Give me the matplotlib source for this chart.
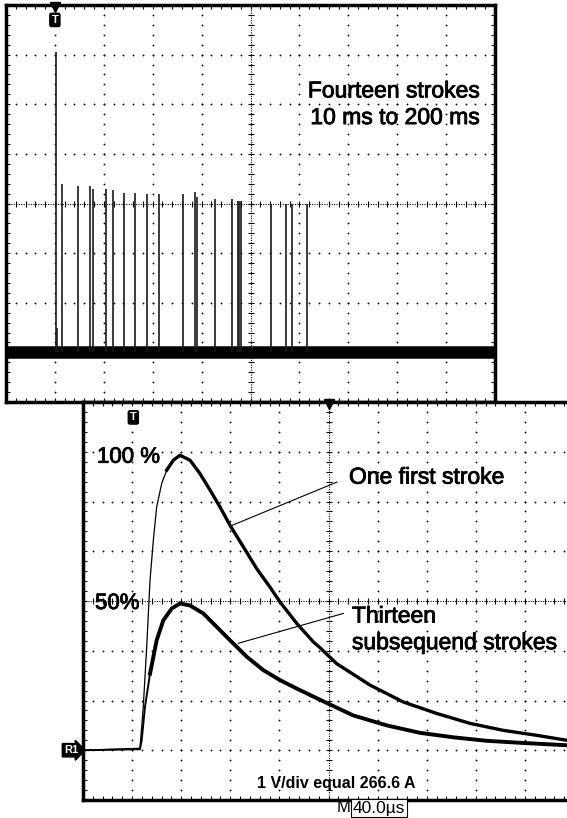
import numpy as np
import matplotlib
matplotlib.use('Agg')
import matplotlib.pyplot as plt
import matplotlib.patheffects as pe

plt.rcParams['font.family'] = ['Liberation Sans', 'DejaVu Sans']

# top screen: stroke positions (divisions) and peak level above baseline (V)
stroke_pos = [1.018, 1.04, 1.154, 1.475, 1.715, 1.777, 2.035, 2.186, 2.418, 2.643,
              2.889, 3.135, 3.621, 3.867, 3.900, 4.283, 4.617, 4.740, 4.775, 4.809,
              5.420, 5.727, 5.850, 6.154]
stroke_amp = [6.05, 0.50, 3.39, 3.35, 3.35, 3.29, 3.29, 3.27, 3.21, 3.21,
              3.19, 3.19, 3.19, 3.23, 3.13, 3.10, 3.10, 3.06, 3.06, 3.06,
              3.00, 3.00, 3.00, 3.00]

# bottom screen: time (us) and level (V) of the two current waveforms
t_first = [0, 46.4, 49.1, 51.9, 54.6, 57.3, 60.0, 64.1, 68.2, 73.6, 79.0, 87.2, 95.3,
           103.5, 111.6, 119.8, 130.6, 141.5, 152.3, 160.5, 174.1, 187.6, 193.1,
           206.7, 233.8, 260.9, 288.1, 315.3, 342.4, 369.6, 394.3, 400]
v_first = [0, 0.04, 0.87, 2.08, 3.42, 4.22, 4.89, 5.36, 5.63, 5.83, 5.93, 5.83, 5.56,
           5.23, 4.89, 4.52, 4.09, 3.65, 3.28, 2.98, 2.55, 2.18, 2.06,
           1.74, 1.31, 0.97, 0.74, 0.54, 0.40, 0.30, 0.20, 0.19]
t_sub = [0, 46.4, 47.8, 50.5, 54.6, 60.0, 65.4, 72.3, 79.0, 87.2, 98.0, 108.9, 119.8,
         133.4, 146.9, 160.5, 174.1, 187.6, 201.2, 220.2, 247.4, 274.5, 301.7, 328.9,
         356.0, 394.3, 400]
v_sub = [0, 0.02, 0.20, 0.87, 1.54, 2.21, 2.61, 2.85, 2.95, 2.91, 2.75, 2.48, 2.21,
         1.88, 1.61, 1.41, 1.24, 1.08, 0.92, 0.70, 0.50, 0.35, 0.26, 0.19,
         0.15, 0.10, 0.10]

bold_fx = [pe.withStroke(linewidth=0.6, foreground='black')]


def scope_grid(ax, xs, ys, xc, yc):
    xf = np.linspace(xs[0], xs[-1], (len(xs) - 1) * 5 + 1)
    yf = np.linspace(ys[0], ys[-1], (len(ys) - 1) * 5 + 1)
    for x in xs[1:-1]:
        if np.isclose(x, xc):
            continue
        ax.plot(np.full(yf.size, x), yf, ls='none', marker='o', ms=1.3, mew=0, color='k')
    for y in ys[1:-1]:
        if np.isclose(y, yc):
            continue
        ax.plot(xf, np.full(xf.size, y), ls='none', marker='o', ms=1.3, mew=0, color='k')
    # centre cross with sub-division ticks
    ax.plot([xc, xc], [ys[0], ys[-1]], ls=(0, (1, 1.2)), lw=0.8, color='k')
    ax.plot(np.full(yf.size, xc), yf, ls='none', marker='_', ms=5, mew=0.8, color='k')
    ax.plot([xs[0], xs[-1]], [yc, yc], ls=(0, (1, 1.2)), lw=0.8, color='k')
    ax.plot(xf, np.full(xf.size, yc), ls='none', marker='|', ms=5, mew=0.8, color='k')
    ax.set_xlim(xs[0], xs[-1])
    ax.set_ylim(ys[0], ys[-1])
    ax.set_xticks(xf)
    ax.set_yticks(yf)
    ax.tick_params(direction='in', length=3, width=0.8, top=True, right=True,
                   labelbottom=False, labelleft=False)
    for sp in ax.spines.values():
        sp.set_linewidth(2.5)


fig = plt.figure(figsize=(5.67, 8.18), dpi=100)

# upper screen
ax1 = fig.add_axes([6 / 567, 1 - 402 / 818, 489 / 567, 397 / 818])
scope_grid(ax1, np.arange(0, 11), np.arange(-1, 8), 5, 3)
ax1.axhline(0, lw=9, color='k', zorder=3)
ax1.vlines(stroke_pos, 0, stroke_amp, color='#1a1a1a', lw=1.2, zorder=3)
ax1.text(9.69, 5.0, 'Fourteen strokes\n10 ms to 200 ms', ha='right', va='center',
         ma='right', fontsize=16.5, linespacing=1.2, path_effects=bold_fx)
ax1.plot(1.0, 6.95, marker='v', ms=7, color='k', clip_on=False, zorder=5)
ax1.text(1.0, 6.7, 'T', ha='center', va='center', color='white', fontsize=8,
         fontweight='bold', bbox=dict(boxstyle='round,pad=0.15', fc='black', ec='black'))

# lower screen (drawn on top, overlapping the first)
ax2 = fig.add_axes([83 / 567, 1 - 800 / 818, 491 / 567, 398 / 818])
ax2.set_facecolor('white')
scope_grid(ax2, np.arange(0, 401, 40), np.arange(-1, 8), 200, 3)
k = 8
ax2.plot(t_first[:k + 1], v_first[:k + 1], color='k', lw=0.9, zorder=3)
ax2.plot(t_first[k:], v_first[k:], color='k', lw=2.4, zorder=3)
ax2.plot(t_sub[:5], v_sub[:5], color='k', lw=1.4, zorder=3)
ax2.plot(t_sub[4:], v_sub[4:], color='k', lw=2.8, zorder=3)

ax2.text(11.4, 5.89, '100 %', ha='left', va='center', fontsize=16, path_effects=bold_fx)
ax2.text(9.8, 2.95, '50%', ha='left', va='center', fontsize=16, path_effects=bold_fx)
ax2.plot([121.4, 206.9], [4.52, 5.39], color='k', lw=0.8)
ax2.text(216.7, 5.49, 'One first stroke', ha='left', va='center', fontsize=16.5,
         path_effects=bold_fx)
ax2.plot([126.5, 212.1], [2.15, 2.75], color='k', lw=0.8)
ax2.text(219.1, 2.43, 'Thirteen\nsubsequend strokes', ha='left', va='center',
         fontsize=16.5, linespacing=1.2, path_effects=bold_fx)
ax2.text(206, -0.66, '1 V/div equal 266.6 A', ha='center', va='center',
         fontsize=11.5, fontweight='bold')
ax2.plot(200, 6.95, marker='v', ms=7, color='k', clip_on=False, zorder=5)
ax2.text(41, 6.69, 'T', ha='center', va='center', color='white', fontsize=8,
         fontweight='bold', bbox=dict(boxstyle='round,pad=0.15', fc='black', ec='black'))
ax2.text(-4, 0, 'R1', ha='right', va='center', color='white', fontsize=8,
         fontweight='bold', clip_on=False,
         bbox=dict(boxstyle='rarrow,pad=0.15', fc='black', ec='black'))

fig.text(350 / 567, 1 - 808 / 818, 'M', ha='right', va='center', fontsize=12)
fig.text(353 / 567, 1 - 808 / 818, '40.0µs', ha='left', va='center', fontsize=12.5,
         bbox=dict(boxstyle='square,pad=0.1', fc='white', ec='black', lw=0.8))

fig.savefig('out.png', dpi=100)
